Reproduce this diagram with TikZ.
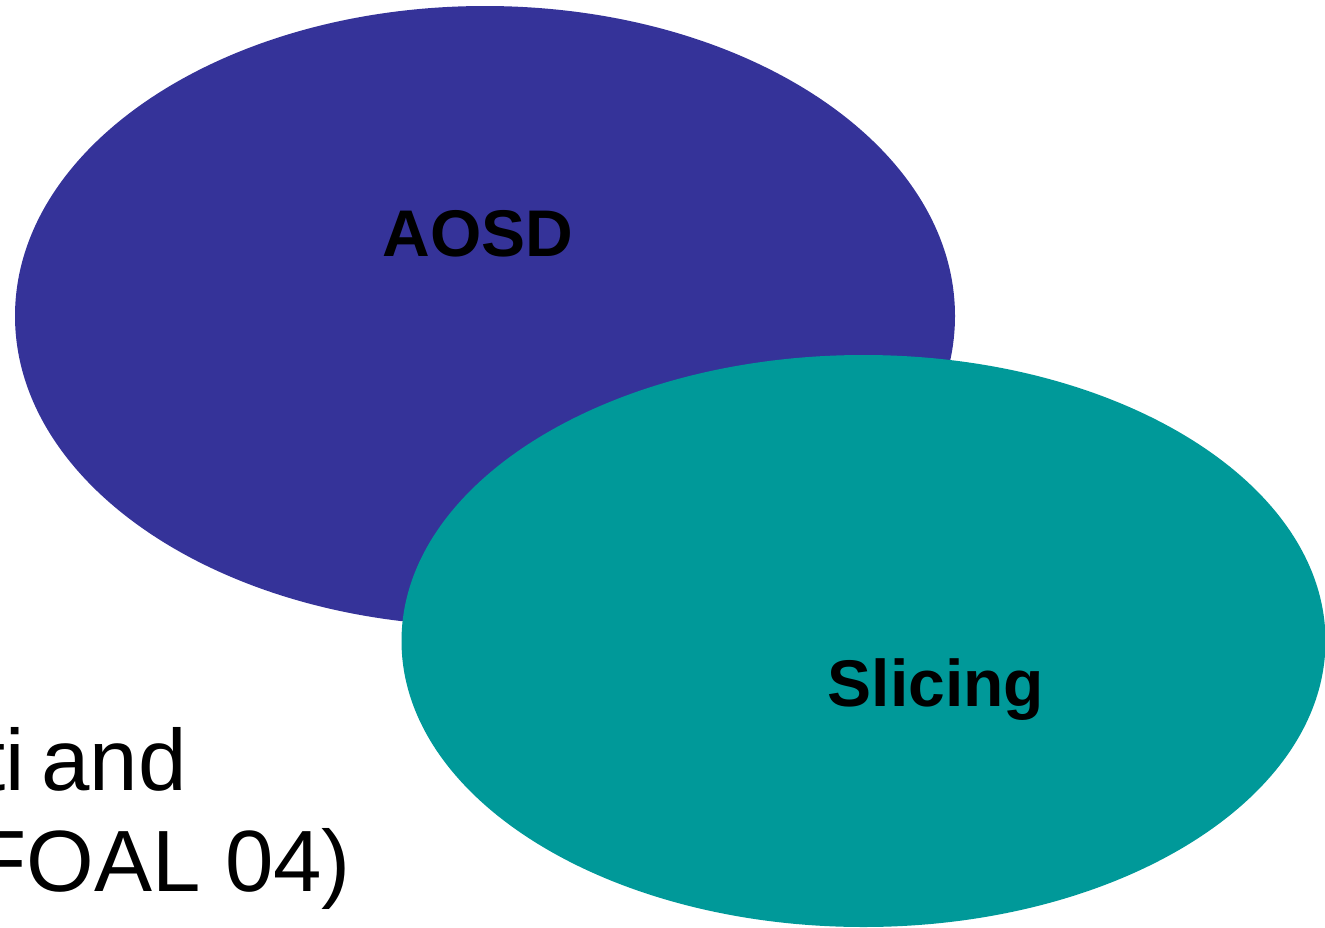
\documentclass[tikz,border=0pt]{standalone}
\usepackage{fontspec}
\setmainfont{Liberation Sans}
\usetikzlibrary{shapes.geometric}
\definecolor{aosdblue}{HTML}{353399}
\definecolor{slteal}{HTML}{009999}
\begin{document}
\begin{tikzpicture}[x=1pt,y=-1pt,
  blob/.style={ellipse,inner sep=0pt,draw=none},
  lbl/.style={font=\fontsize{66}{70}\selectfont\bfseries,text=black,inner sep=0pt},
  side/.style={font=\fontsize{87}{100}\selectfont,text=black,inner sep=0pt}]
\useasboundingbox (0,0) rectangle (1325,927);
\begin{scope}
\clip (0,0) rectangle (1325,927);
\node[side,anchor=base east] (t1) at (187,790) {ti\hspace{17pt}and};
\node[side,anchor=base east] (t2) at (351,891) {FOAL 04)};
\node[blob,fill=aosdblue,minimum width=940,minimum height=620] (aosd) at (485,316) {};
\node[blob,fill=slteal,minimum width=924,minimum height=572] (slicing) at (863.5,641) {};
\node[lbl,anchor=base] (aosdl) at (478,256) {AOSD};
\node[lbl,anchor=base] (slicel) at (936,706) {Slicing};
\end{scope}
\end{tikzpicture}
\end{document}
